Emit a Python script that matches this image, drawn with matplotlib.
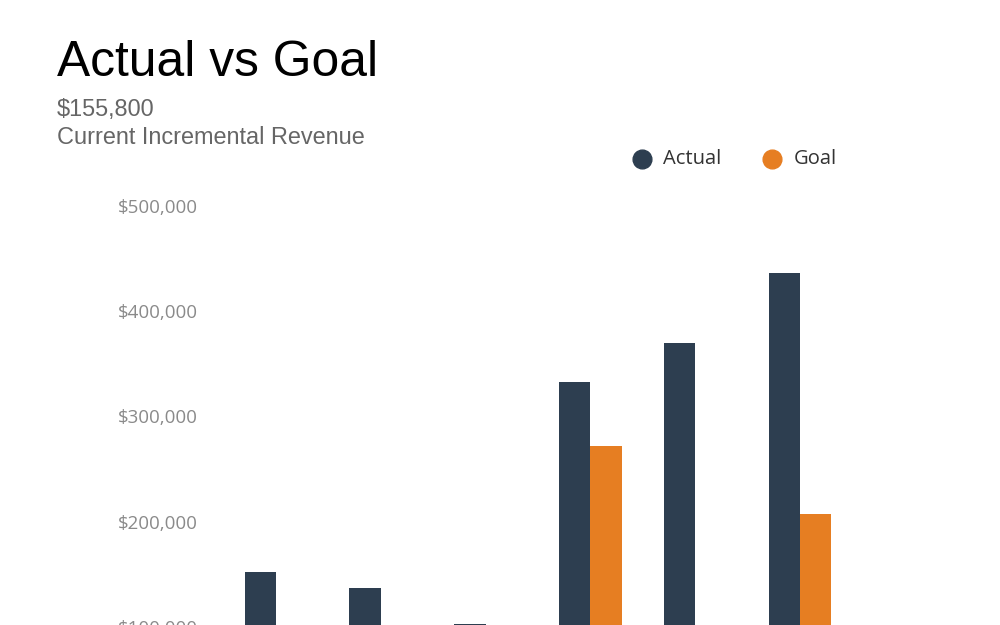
import matplotlib
matplotlib.use("Agg")
import matplotlib.pyplot as plt
from matplotlib.lines import Line2D
import numpy as np

categories = ["Q1", "Q2", "Q3", "Q4", "Q5", "Q6"]
actual = [152000, 137000, 103000, 333000, 370000, 436000]
goal = [0, 0, 0, 272000, 0, 207500]
yticks = [100000, 200000, 300000, 400000, 500000]
ytick_labels = ["$100,000", "$200,000", "$300,000", "$400,000", "$500,000"]
series_names = ["Actual", "Goal"]
series_colors = ["#2d3e50", "#e67e22"]

W, H = 1000, 625
fig = plt.figure(figsize=(W / 100, H / 100), dpi=100)
fig.patch.set_facecolor("white")

# axes: top at y=206px (500k), zero at y=732px (below the visible figure)
left_px, right_px = 223.6, 852.4
top_px, zero_px = 206, 732
ax = fig.add_axes([left_px / W, 1 - zero_px / H, (right_px - left_px) / W, (zero_px - top_px) / H])
ax.set_facecolor("none")

x = np.arange(len(categories))
bw = 0.3
ax.bar(x - bw / 2, actual, width=bw, color=series_colors[0], zorder=3, label=series_names[0])
ax.bar(x + bw / 2, goal, width=bw, color=series_colors[1], zorder=3, label=series_names[1])

ax.set_xlim(-0.5, len(categories) - 0.5)
ax.set_ylim(0, 500000)
ax.set_yticks(yticks)
ax.set_yticklabels(ytick_labels, fontfamily="Open Sans", fontsize=13.5, color="#8a8a8a")
ax.set_xticks(x)
ax.set_xticklabels([])
ax.tick_params(axis="y", length=0, pad=18.4)
ax.tick_params(axis="x", length=0)
for s in ax.spines.values():
    s.set_visible(False)

fig.text(57 / W, 1 - 76 / H, "Actual vs Goal", fontfamily="Liberation Sans", fontsize=35.8,
         color="black", ha="left", va="baseline")
fig.text(57 / W, 1 - 116 / H, "$155,800", fontfamily="Liberation Sans", fontsize=16.9,
         color="#666666", ha="left", va="baseline")
fig.text(57 / W, 1 - 144 / H, "Current Incremental Revenue", fontfamily="Liberation Sans",
         fontsize=16.9, color="#666666", ha="left", va="baseline")

# legend drawn at figure level
marker_x = [642, 772]
text_x = [663, 794]
leg_y = 159
for name, col, mx, tx in zip(series_names, series_colors, marker_x, text_x):
    fig.add_artist(Line2D([mx / W], [1 - leg_y / H], marker="o", markersize=13.5, color=col,
                          linestyle="none", transform=fig.transFigure))
    fig.text(tx / W, 1 - leg_y / H, name, fontfamily="Open Sans", fontsize=14.5,
             color="#333333", ha="left", va="center")

fig.savefig("out.png", dpi=100, facecolor="white")
